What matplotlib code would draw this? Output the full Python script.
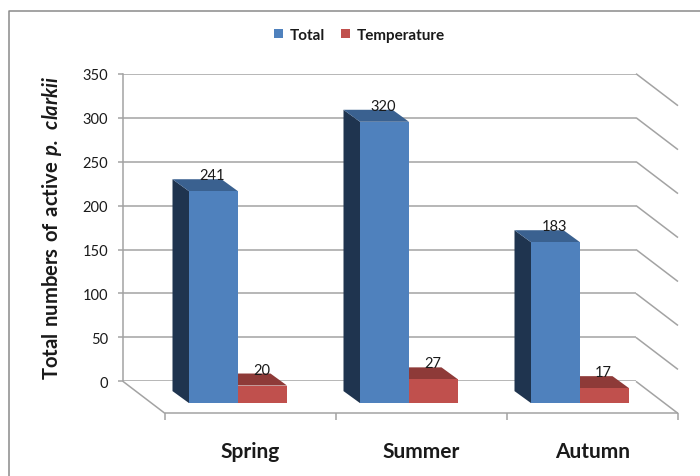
import matplotlib
matplotlib.use("Agg")
import matplotlib.pyplot as plt
from matplotlib.lines import Line2D
from matplotlib.patches import Polygon

plt.rcParams['font.family'] = ['Lato', 'DejaVu Sans']
plt.rcParams['mathtext.fontset'] = 'custom'
plt.rcParams['mathtext.rm'] = 'Lato:bold'
plt.rcParams['mathtext.bfit'] = 'Lato:italic:bold'

seasons = ['Spring', 'Summer', 'Autumn']
total = [241, 320, 183]
temperature = [20, 27, 17]
y_ticks = [0, 50, 100, 150, 200, 250, 300, 350]

W, H = 700, 477
GRID = '#a3a3a3'
FRAME = '#8a8a8a'
TXT = '#1a1a1a'

# back wall rectangle, in pixels
wall_l, wall_r, wall_top, wall_bot = 123, 636, 74.7, 382.4
px_x = (wall_r - wall_l) / 3        # pixels per category
px_y = (wall_bot - wall_top) / 350  # pixels per count

def dx(p):
    return p / px_x

def dy(p):
    return p / px_y

fig = plt.figure(figsize=(W / 100, H / 100), dpi=100)
ax = fig.add_axes([wall_l / W, 1 - wall_bot / H, (wall_r - wall_l) / W, (wall_bot - wall_top) / H])
ax.set_xlim(-0.5, 2.5)
ax.set_ylim(0, 350)
ax.patch.set_alpha(0)

for s in ['top', 'right', 'bottom']:
    ax.spines[s].set_visible(False)
ax.spines['left'].set_color(GRID)
ax.spines['left'].set_linewidth(1.1)
ax.set_xticks([])
ax.set_yticks(y_ticks)
ax.tick_params(axis='y', length=3.6, width=1.1, color=GRID, pad=7, labelsize=10.5, labelcolor=TXT)
ax.yaxis.grid(True, color=GRID, lw=1.1)
ax.set_axisbelow(True)

# floor and side wall lines
def line(xs, ys, **kw):
    ax.plot(xs, ys, color=GRID, lw=1.1, clip_on=False, solid_capstyle='butt', zorder=1, **kw)

depth_x, depth_y = dx(42), dy(32)
line([-0.5, -0.5 + depth_x], [0, -depth_y])
line([-0.5 + depth_x, 2.5 + depth_x], [-depth_y, -depth_y])
for v in y_ticks:
    line([2.5, 2.5 + depth_x], [v, v - depth_y])
for i in range(4):
    xt = -0.5 + depth_x + i
    line([xt, xt], [-depth_y, -depth_y - dy(7)])

# bars sit partway into the floor, depth offset from the front face
front_x, front_y = dx(29.5), dy(21.7)
bar_w = dx(49)
back_x, back_y = dx(16.5), dy(12)

def bar3d(left, vals, front, side, top, zorder):
    xs = [i + front_x + left for i in range(len(vals))]
    rects = ax.bar(xs, vals, width=bar_w, bottom=-front_y, align='edge', color=front,
                   clip_on=False, zorder=zorder, linewidth=0)
    for x0, v in zip(xs, vals):
        y0, y1 = -front_y, v - front_y
        ax.add_patch(Polygon([(x0, y0), (x0, y1), (x0 - back_x, y1 + back_y), (x0 - back_x, y0 + back_y)],
                             facecolor=side, clip_on=False, zorder=zorder - 0.1, linewidth=0))
        ax.add_patch(Polygon([(x0, y1), (x0 + bar_w, y1), (x0 + bar_w - back_x, y1 + back_y), (x0 - back_x, y1 + back_y)],
                             facecolor=top, clip_on=False, zorder=zorder - 0.1, linewidth=0))
        ax.text(x0 + bar_w / 2 - dx(1), y1 + dy(16), str(v), ha='center', va='center', fontsize=10.5,
                color=TXT, zorder=10, clip_on=False)
    return rects

r_temp = bar3d(0, temperature, '#c0504d', '#7d2f2d', '#8e3a38', 3)
r_total = bar3d(-bar_w, total, '#4f81bd', '#1f344f', '#3a6190', 5)

for i, s in enumerate(seasons):
    ax.text(i + depth_x, -dy(69.5), s, ha='center', va='center', fontsize=15,
            fontweight='bold', color=TXT, clip_on=False)

fig.text(52 / W, 1 - 227.5 / H, r'$\mathrm{Total\ numbers\ of\ active}\ \mathbfit{p.\ clarkii}$',
         rotation=90, ha='center', va='center', fontsize=14.6, color=TXT)

leg = fig.legend([r_total[0], r_temp[0]], ['Total', 'Temperature'], loc='center', ncol=2,
                 bbox_to_anchor=(359.5 / W, 1 - 36 / H), frameon=False, handlelength=0.55,
                 handleheight=0.55, handletextpad=0.45, columnspacing=1.1,
                 prop={'weight': 'bold', 'size': 11})
for t in leg.get_texts():
    t.set_color(TXT)

# outer chart border, open to the right and bottom
fig.add_artist(Line2D([9 / W, 9 / W, 1], [0, 1 - 12 / H, 1 - 12 / H], color=FRAME, lw=1.1))

fig.savefig('out.png', dpi=100)
